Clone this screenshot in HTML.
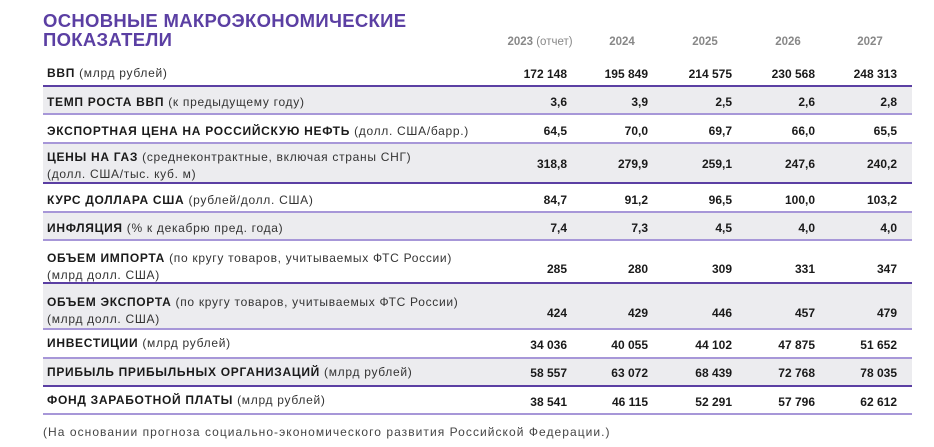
<!DOCTYPE html>
<html><head><meta charset="utf-8"><style>
body{margin:0;width:934px;height:447px;background:#fff;position:relative;font-family:"Liberation Sans",sans-serif;color:#222;overflow:hidden}
.t{position:absolute;left:43px;top:11px;font-size:18.5px;font-weight:bold;color:#5b3fa3;line-height:19px;letter-spacing:0.3px}
.h{position:absolute;top:36px;font-size:11.5px;font-weight:bold;color:#888;text-align:center;width:80px;white-space:nowrap}
.h span{font-weight:normal}
.r{position:absolute;left:43px;width:869px}
.g{background:#ececef}
.ln{position:absolute;left:43px;width:869px;height:2px}
.d{background:#5b3fa3}.l{background:#a797d8}
.lab{position:absolute;left:4px;font-size:12px;letter-spacing:0.7px;line-height:17px;color:#333;white-space:nowrap}
.lab b{color:#1a1a1a}
.v{position:absolute;font-size:12px;font-weight:bold;text-align:right;width:80px;color:#1a1a1a;white-space:nowrap}
.f{position:absolute;left:43px;top:425px;font-size:12px;letter-spacing:1.05px;color:#444;white-space:nowrap}
</style></head><body>
<div class="t">ОСНОВНЫЕ МАКРОЭКОНОМИЧЕСКИЕ<br>ПОКАЗАТЕЛИ</div>
<div class="h" style="left:498px;width:84px">2023 <span>(отчет)</span></div>
<div class="h" style="left:582px">2024</div>
<div class="h" style="left:665px">2025</div>
<div class="h" style="left:748px">2026</div>
<div class="h" style="left:830px">2027</div>

<div class="r g" style="top:86px;height:28px"></div>
<div class="r g" style="top:143px;height:40px"></div>
<div class="r g" style="top:212px;height:28px"></div>
<div class="r g" style="top:283px;height:46px"></div>
<div class="r g" style="top:358px;height:28px"></div>

<div class="ln d" style="top:85px"></div>
<div class="ln l" style="top:113px"></div>
<div class="ln l" style="top:142px"></div>
<div class="ln d" style="top:182px"></div>
<div class="ln l" style="top:211px"></div>
<div class="ln l" style="top:239px"></div>
<div class="ln d" style="top:282px"></div>
<div class="ln l" style="top:328px"></div>
<div class="ln l" style="top:357px"></div>
<div class="ln d" style="top:385px"></div>
<div class="ln l" style="top:413px"></div>

<div style="position:absolute;left:43px;top:0;width:800px">
<div class="lab" style="top:65px"><b>ВВП</b> (млрд рублей)</div>
<div class="lab" style="top:94px"><b>ТЕМП РОСТА ВВП</b> (к предыдущему году)</div>
<div class="lab" style="top:123px"><b>ЭКСПОРТНАЯ ЦЕНА НА РОССИЙСКУЮ НЕФТЬ</b> (долл. США/барр.)</div>
<div class="lab" style="top:149px"><b>ЦЕНЫ НА ГАЗ</b> (среднеконтрактные, включая страны СНГ)<br>(долл. США/тыс. куб. м)</div>
<div class="lab" style="top:192px"><b>КУРС ДОЛЛАРА США</b> (рублей/долл. США)</div>
<div class="lab" style="top:220px"><b>ИНФЛЯЦИЯ</b> (% к декабрю пред. года)</div>
<div class="lab" style="top:250px"><b>ОБЪЕМ ИМПОРТА</b> (по кругу товаров, учитываемых ФТС России)<br>(млрд долл. США)</div>
<div class="lab" style="top:294px"><b>ОБЪЕМ ЭКСПОРТА</b> (по кругу товаров, учитываемых ФТС России)<br>(млрд долл. США)</div>
<div class="lab" style="top:335px"><b>ИНВЕСТИЦИИ</b> (млрд рублей)</div>
<div class="lab" style="top:364px"><b>ПРИБЫЛЬ ПРИБЫЛЬНЫХ ОРГАНИЗАЦИЙ</b> (млрд рублей)</div>
<div class="lab" style="top:392px"><b>ФОНД ЗАРАБОТНОЙ ПЛАТЫ</b> (млрд рублей)</div>
</div>

<div id="vals"></div>
<script>
var rows=[[67,["172 148","195 849","214 575","230 568","248 313"]],
[95,["3,6","3,9","2,5","2,6","2,8"]],
[124,["64,5","70,0","69,7","66,0","65,5"]],
[157,["318,8","279,9","259,1","247,6","240,2"]],
[193,["84,7","91,2","96,5","100,0","103,2"]],
[221,["7,4","7,3","4,5","4,0","4,0"]],
[262,["285","280","309","331","347"]],
[306,["424","429","446","457","479"]],
[338,["34 036","40 055","44 102","47 875","51 652"]],
[366,["58 557","63 072","68 439","72 768","78 035"]],
[395,["38 541","46 115","52 291","57 796","62 612"]]];
var R=[567,648,732,815,897],h="";
rows.forEach(function(r){r[1].forEach(function(v,i){h+='<div class="v" style="top:'+r[0]+'px;left:'+(R[i]-80)+'px">'+v+'</div>';});});
document.getElementById("vals").innerHTML=h;
</script>
<div class="f">(На основании прогноза социально-экономического развития Российской Федерации.)</div>
</body></html>
